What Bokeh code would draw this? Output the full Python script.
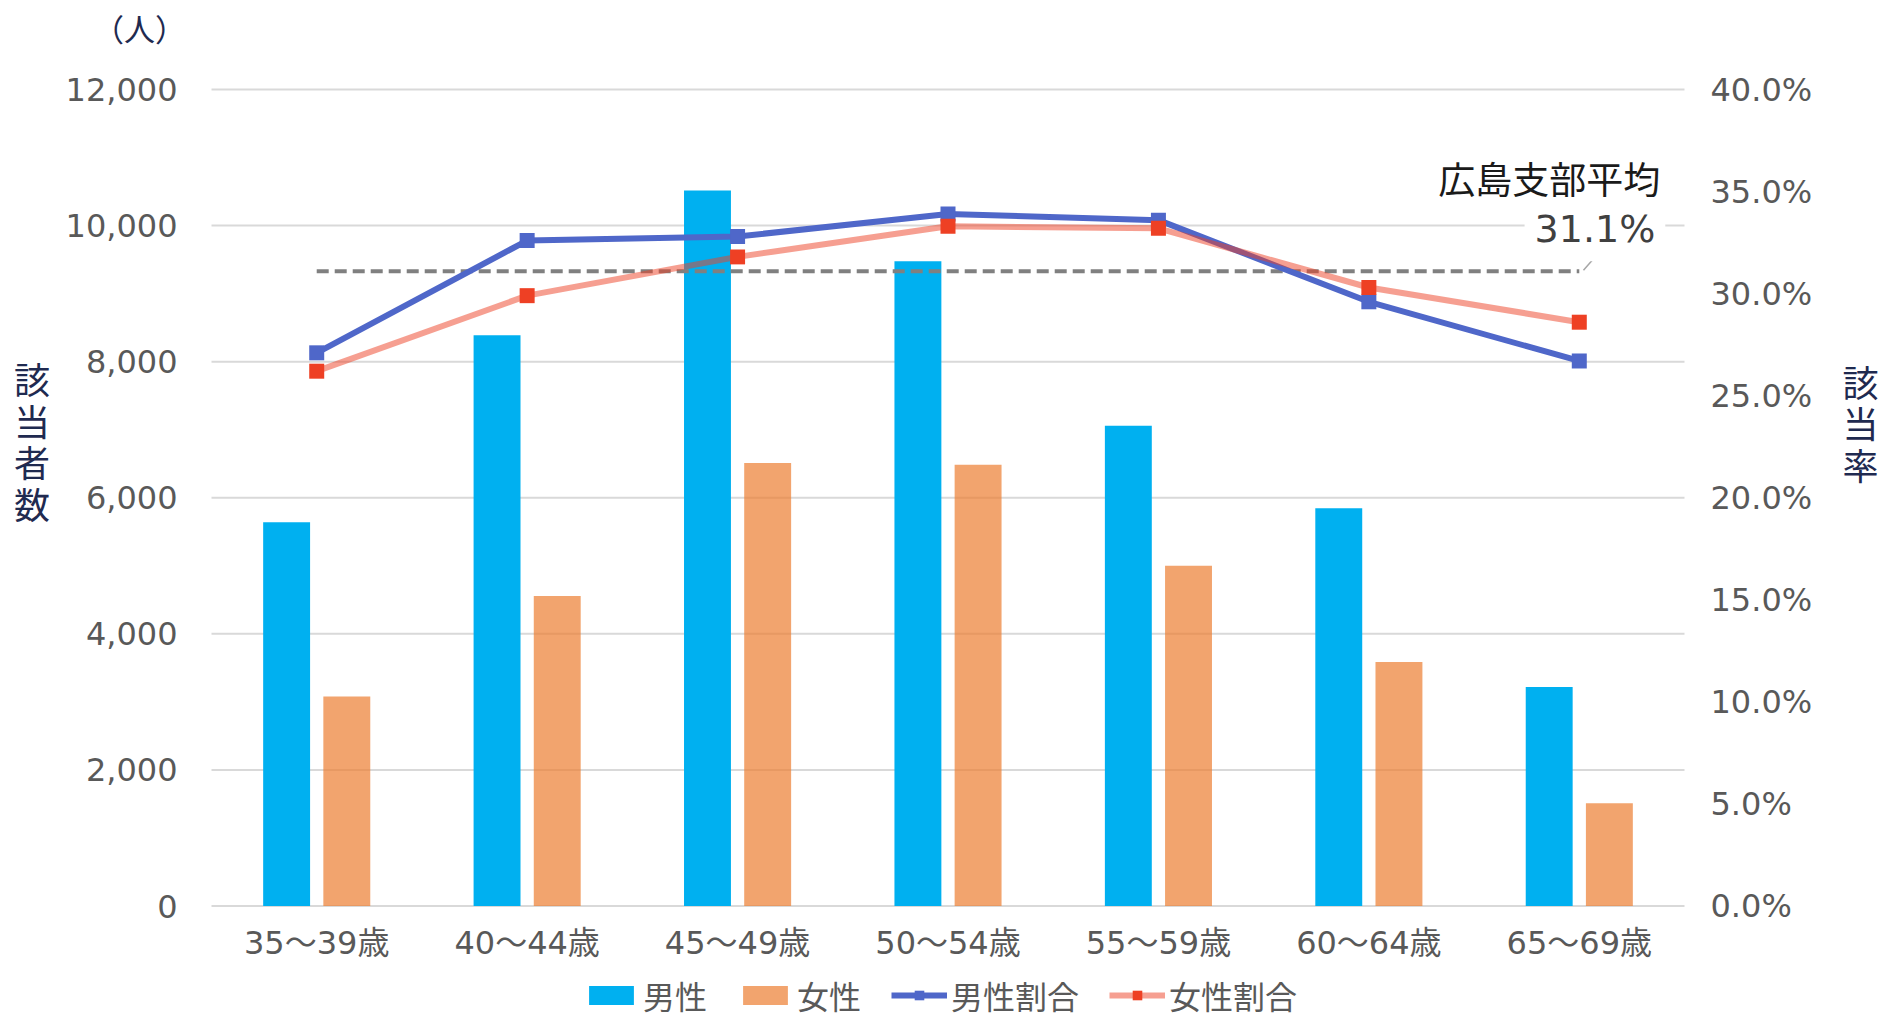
from bokeh.plotting import figure
from bokeh.models import Range1d, Legend, LegendItem, Label
from bokeh.core.properties import value
from bokeh.embed import file_html
from bokeh.resources import INLINE

# ---- data ----
categories = ["35～39歳", "40～44歳", "45～49歳", "50～54歳", "55～59歳", "60～64歳", "65～69歳"]
male = [5640, 8390, 10515, 9475, 7060, 5845, 3220]
female = [3080, 4555, 6510, 6485, 5000, 3585, 1510]
male_rate = [27.1, 32.6, 32.8, 33.9, 33.6, 29.6, 26.7]
female_rate = [26.2, 29.9, 31.8, 33.3, 33.2, 30.3, 28.6]
branch_avg = 31.1
avg_label = "広島支部平均"
series_names = ["男性", "女性", "男性割合", "女性割合"]
count_ticks = [0, 2000, 4000, 6000, 8000, 10000, 12000]
rate_ticks = [0, 5, 10, 15, 20, 25, 30, 35, 40]
left_title = "該当者数"
right_title = "該当率"
unit_label = "（人）"

FONT = "DejaVu Sans, Noto Sans CJK JP"
CJK = "Noto Sans CJK JP"
TICK_COLOR = "#595959"
TITLE_COLOR = "#1F2A50"

# ---- geometry (canvas pixels) ----
W, H = 1883, 1020
PLOT_LEFT, PLOT_RIGHT = 211, 1684      # plot area horizontal extent
PLOT_TOP, PLOT_ZERO = 89, 905.5        # y of max tick and of zero
n = len(categories)
PX_CAT = (PLOT_RIGHT - PLOT_LEFT) / n
CMAX, PMAX = count_ticks[-1], rate_ticks[-1]
PPU = (PLOT_ZERO - PLOT_TOP) / CMAX
PPP = (PLOT_ZERO - PLOT_TOP) / PMAX

xs = [i + 0.5 for i in range(n)]

p = figure(width=W, height=H, output_backend="svg", toolbar_location=None,
           x_axis_type=None, y_axis_type=None,
           x_range=Range1d(-PLOT_LEFT / PX_CAT, n + (W - PLOT_RIGHT) / PX_CAT),
           y_range=Range1d(-(H - PLOT_ZERO) / PPU, CMAX + PLOT_TOP / PPU),
           min_border=0, min_border_left=0, min_border_right=0,
           min_border_top=0, min_border_bottom=0)
p.extra_y_ranges = {"pct": Range1d(-(H - PLOT_ZERO) / PPP, PMAX + PLOT_TOP / PPP)}
p.outline_line_color = None
p.background_fill_color = "white"
p.border_fill_color = "white"
p.grid.visible = False

# gridlines
p.segment(x0=[0] * len(count_ticks), x1=[n] * len(count_ticks), y0=count_ticks,
          y1=count_ticks, line_color="#D9D9D9", line_width=2, level="underlay")

# tick labels
p.text(x=[0] * len(count_ticks), y=count_ticks, text=[f"{t:,}" for t in count_ticks],
       x_offset=-34, text_align="right", text_baseline="middle",
       text_font=value(FONT), text_font_size="32px", text_color=TICK_COLOR)
p.text(x=[n] * len(rate_ticks), y=rate_ticks, text=[f"{t:.1f}%" for t in rate_ticks],
       y_range_name="pct", x_offset=26, text_align="left", text_baseline="middle",
       text_font=value(FONT), text_font_size="32px", text_color=TICK_COLOR)
p.text(x=xs, y=[0] * n, text=categories, y_offset=37, text_align="center",
       text_baseline="middle", text_font=value(FONT), text_font_size="32px",
       text_color=TICK_COLOR)

# bars
r_male = p.vbar(x=[x - 0.143 for x in xs], top=male, bottom=0, width=0.223,
                fill_color="#00B0F0", line_color=None)
r_female = p.vbar(x=[x + 0.143 for x in xs], top=female, bottom=0, width=0.223,
                  fill_color="#ED7D31", fill_alpha=0.7, line_color=None)

# average dashed line + leader
p.line(x=[xs[0], xs[-1]], y=[branch_avg, branch_avg], y_range_name="pct",
       line_color="#808080", line_width=4, line_dash="12 6")
p.segment(x0=[xs[-1] + 0.02], y0=[branch_avg + 0.05], x1=[xs[-1] + 0.075],
          y1=[branch_avg + 0.7], y_range_name="pct", line_color="#A6A6A6", line_width=1.5)

# rate lines
r_ml = p.line(x=xs, y=male_rate, y_range_name="pct", line_color="#4F67C9", line_width=6)
r_ms = p.scatter(x=xs, y=male_rate, y_range_name="pct", marker="square", size=15,
                 fill_color="#4F67C9", line_color=None)
r_fl = p.line(x=xs, y=female_rate, y_range_name="pct", line_color="#EE4024",
              line_alpha=0.5, line_width=6)
r_fs = p.scatter(x=xs, y=female_rate, y_range_name="pct", marker="square", size=15,
                 fill_color="#EE4024", line_color=None)

# average labels (screen units measured from the canvas bottom-left)
last_sx = PLOT_LEFT + xs[-1] * PX_CAT
avg_sy = (H - PLOT_ZERO) + branch_avg * PPP
pct_lab = Label(x=last_sx + 86, y=avg_sy + 42, x_units="screen", y_units="screen",
                text=f"{branch_avg:.1f}%", text_font=FONT, text_font_size="38px",
                text_color="#404040", text_align="right", text_baseline="alphabetic",
                background_fill_color="white")
if "padding" in pct_lab.properties():
    pct_lab.padding = 10
p.add_layout(pct_lab)
p.add_layout(Label(x=last_sx + 81, y=avg_sy + 93, x_units="screen", y_units="screen",
                   text=avg_label, text_font=CJK, text_font_size="37px",
                   text_color="#1A1A1A", text_align="right", text_baseline="middle"))

# axis titles (stacked vertical) and unit
p.add_layout(Label(x=31.5, y=H - 440, x_units="screen", y_units="screen",
                   text="\n".join(left_title), text_font=CJK, text_font_size="36px",
                   text_color=TITLE_COLOR, text_align="center", text_baseline="middle",
                   text_line_height=0.8))
p.add_layout(Label(x=1860, y=H - 422, x_units="screen", y_units="screen",
                   text="\n".join(right_title), text_font=CJK, text_font_size="36px",
                   text_color=TITLE_COLOR, text_align="center", text_baseline="middle",
                   text_line_height=0.8))
p.add_layout(Label(x=139, y=H - 27, x_units="screen", y_units="screen",
                   text=unit_label, text_font=CJK, text_font_size="31px",
                   text_color=TITLE_COLOR, text_align="center", text_baseline="middle"))

legend = Legend(items=[LegendItem(label=series_names[0], renderers=[r_male]),
                       LegendItem(label=series_names[1], renderers=[r_female]),
                       LegendItem(label=series_names[2], renderers=[r_ml, r_ms]),
                       LegendItem(label=series_names[3], renderers=[r_fl, r_fs])],
                orientation="horizontal", location=(583, 2),
                label_text_font=CJK, label_text_font_size="32px",
                label_text_color=TICK_COLOR, glyph_width=56, glyph_height=24,
                label_standoff=4, spacing=30, padding=0, margin=0,
                border_line_color=None, background_fill_alpha=0)
p.add_layout(legend, "center")

open("out.html", "w").write(file_html(p, INLINE))
